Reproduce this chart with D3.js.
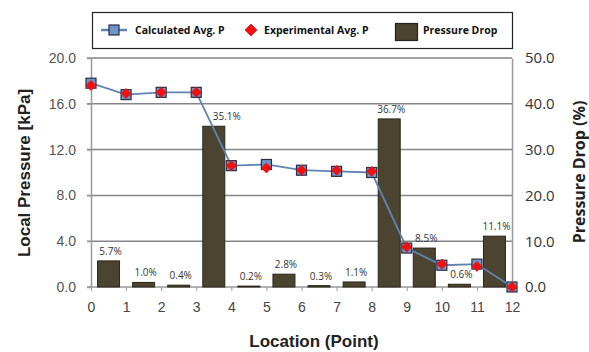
<!DOCTYPE html>
<html>
<head>
<meta charset="utf-8">
<style>
  body { margin: 0; background: #fff; }
  svg { display: block; }
</style>
<script src="https://cdn.jsdelivr.net/npm/d3@7"></script>
</head>
<body>
<div id="chart"></div>
<script>
// points along the line, 0..12
var points = [0, 1, 2, 3, 4, 5, 6, 7, 8, 9, 10, 11, 12];
var calcP = [17.8, 16.8, 17.0, 17.0, 10.6, 10.7, 10.2, 10.1, 10.0, 3.4, 1.9, 2.0, 0.0];
var expP  = [17.6, 16.9, 17.0, 17.0, 10.6, 10.4, 10.2, 10.2, 10.1, 3.5, 2.0, 1.8, 0.0];
// pressure drop between point i and i+1 (%)
var dropPct = [5.7, 1.0, 0.4, 35.1, 0.2, 2.8, 0.3, 1.1, 36.7, 8.5, 0.6, 11.1];
var leftTicks = [0, 4, 8, 12, 16, 20];
var rightTicks = [0, 10, 20, 30, 40, 50];

var W = 589, H = 352;
var pLeft = 91, pRight = 512, pTop = 58, pBottom = 287;

var svg = d3.select("#chart").append("svg")
  .attr("width", W).attr("height", H);

var x = d3.scaleLinear().domain([0, 12]).range([pLeft, pRight]);
var yL = d3.scaleLinear().domain([0, 20]).range([pBottom, pTop]);
var yR = d3.scaleLinear().domain([0, 50]).range([pBottom, pTop]);

// grid lines
svg.append("g").selectAll("line").data(leftTicks.slice(1)).enter()
  .append("line")
  .attr("x1", pLeft - 4).attr("x2", pRight)
  .attr("y1", function(d) { return yL(d); })
  .attr("y2", function(d) { return yL(d); })
  .attr("stroke", "#858585").attr("stroke-width", 1.5);

// left axis
var gL = svg.append("g").attr("transform", "translate(" + pLeft + ",0)")
  .call(d3.axisLeft(yL).tickValues(leftTicks).tickSize(4).tickFormat(d3.format(".1f")));
gL.select(".domain").attr("stroke", "#999").attr("stroke-width", 1.5);
gL.selectAll(".tick line").attr("stroke", "#999");
gL.selectAll("text").attr("font-family", "Liberation Sans, Arial, sans-serif")
  .attr("font-size", 14).attr("fill", "#555").attr("x", -15);

// right axis
var gR = svg.append("g").attr("transform", "translate(" + pRight + ",0)")
  .call(d3.axisRight(yR).tickValues(rightTicks).tickSize(0).tickFormat(d3.format(".1f")));
gR.select(".domain").attr("stroke", "#999").attr("stroke-width", 1.5);
gR.selectAll("text").attr("font-family", "Open Sans, Noto Sans, sans-serif")
  .attr("font-size", 15).attr("fill", "#333").attr("x", 13);

// bottom axis
var gB = svg.append("g").attr("transform", "translate(0," + pBottom + ")")
  .call(d3.axisBottom(x).tickValues(points).tickSize(4).tickFormat(d3.format("d")));
gB.select(".domain").attr("d", "M" + (pLeft - 4) + ",0H" + pRight)
  .attr("stroke", "#999").attr("stroke-width", 1.5);
gB.selectAll(".tick line").attr("stroke", "#999");
gB.selectAll("text").attr("font-family", "Liberation Sans, Arial, sans-serif")
  .attr("font-size", 14).attr("fill", "#444").attr("y", 15);

// bars
var bw = 22;
svg.append("g").selectAll("rect").data(dropPct).enter()
  .append("rect")
  .attr("x", function(d, i) { return x(i + 0.5) - bw / 2; })
  .attr("y", function(d) { return yR(d); })
  .attr("width", bw)
  .attr("height", function(d) { return pBottom - yR(d); })
  .attr("fill", "#4a4430").attr("stroke", "#2a2718").attr("stroke-width", 1);

// the 35.1% label sits right of the steep line segment
svg.append("g").selectAll("text").data(dropPct).enter()
  .append("text")
  .attr("x", function(d, i) { return x(i + 0.5) + (i === 3 ? 13 : 2); })
  .attr("y", function(d) { return yR(d) - 6; })
  .attr("text-anchor", "middle")
  .attr("font-family", "Open Sans, Noto Sans, sans-serif")
  .attr("font-size", 10).attr("fill", "#333")
  .text(function(d) { return d.toFixed(1) + "%"; });

// calculated line
var line = d3.line().x(function(d, i) { return x(i); }).y(function(d) { return yL(d); });
svg.append("path").datum(calcP).attr("d", line)
  .attr("fill", "none").attr("stroke", "#5f84b4").attr("stroke-width", 1.8);

svg.append("g").selectAll("rect").data(calcP).enter()
  .append("rect")
  .attr("x", function(d, i) { return x(i) - 5; })
  .attr("y", function(d) { return yL(d) - 5; })
  .attr("width", 10).attr("height", 10)
  .attr("fill", "#6f95c8").attr("stroke", "#2b2f45").attr("stroke-width", 1.2);

// experimental points (square diamond)
var diamond = "M0,-5L5,0L0,5L-5,0Z";
svg.append("g").selectAll("path").data(expP).enter()
  .append("path")
  .attr("d", diamond)
  .attr("transform", function(d, i) { return "translate(" + x(i) + "," + yL(d) + ")"; })
  .attr("fill", "#f01010").attr("stroke", "#f01010").attr("stroke-width", 0.8)
  .attr("stroke-linejoin", "round");

// axis titles
svg.append("text")
  .attr("transform", "translate(30,173) rotate(-90)")
  .attr("text-anchor", "middle")
  .attr("font-family", "Liberation Sans, Arial, sans-serif")
  .attr("font-weight", "bold").attr("font-size", 17).attr("fill", "#222")
  .text("Local Pressure [kPa]");

svg.append("text")
  .attr("transform", "translate(585,172) rotate(-90)")
  .attr("text-anchor", "middle")
  .attr("font-family", "Open Sans, Noto Sans, sans-serif")
  .attr("font-weight", "bold").attr("font-size", 16).attr("fill", "#222")
  .text("Pressure Drop (%)");

svg.append("text")
  .attr("x", 314).attr("y", 347)
  .attr("text-anchor", "middle")
  .attr("font-family", "Liberation Sans, Arial, sans-serif")
  .attr("font-weight", "bold").attr("font-size", 17).attr("fill", "#222")
  .text("Location (Point)");

// legend
var lg = svg.append("g");
lg.append("rect").attr("x", 92.5).attr("y", 12.5).attr("width", 420).attr("height", 36)
  .attr("fill", "#fff").attr("stroke", "#222").attr("stroke-width", 1.2);
lg.append("line").attr("x1", 101).attr("x2", 127).attr("y1", 30).attr("y2", 30)
  .attr("stroke", "#5f84b4").attr("stroke-width", 2.5);
lg.append("rect").attr("x", 109).attr("y", 25).attr("width", 10).attr("height", 10)
  .attr("fill", "#6f95c8").attr("stroke", "#2b2f45").attr("stroke-width", 1.2);
lg.append("path").attr("d", "M0,-6L6,0L0,6L-6,0Z")
  .attr("transform", "translate(251,30)").attr("fill", "#f01010")
  .attr("stroke", "#f01010").attr("stroke-width", 0.8).attr("stroke-linejoin", "round");
lg.append("rect").attr("x", 395.5).attr("y", 23.5).attr("width", 22).attr("height", 17)
  .attr("fill", "#4a4430").attr("stroke", "#222").attr("stroke-width", 1.2);

var legendText = [["Calculated Avg. P", 135], ["Experimental Avg. P", 264], ["Pressure Drop", 423]];
lg.selectAll("text.lt").data(legendText).enter()
  .append("text").attr("class", "lt")
  .attr("x", function(d) { return d[1]; }).attr("y", 34)
  .attr("font-family", "Open Sans, Noto Sans, sans-serif")
  .attr("font-weight", "bold").attr("font-size", 10.5).attr("fill", "#111")
  .text(function(d) { return d[0]; });
</script>
</body>
</html>
